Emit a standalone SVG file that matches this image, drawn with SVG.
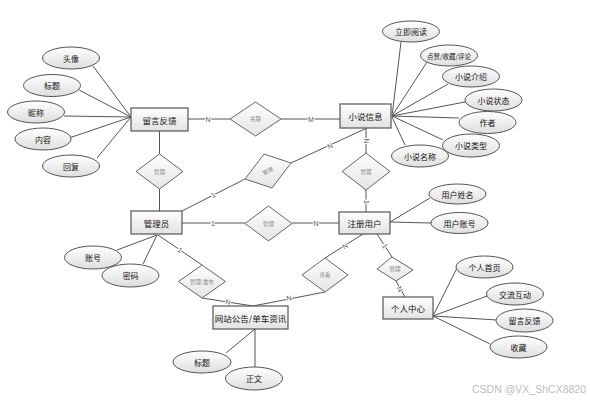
<svg xmlns="http://www.w3.org/2000/svg" width="590" height="400" viewBox="0 0 590 400">
<defs>
<linearGradient id="gE" x1="0" y1="0" x2="0" y2="1"><stop offset="0" stop-color="#ffffff"/><stop offset="1" stop-color="#dedede"/></linearGradient>
<linearGradient id="gR" x1="0" y1="0" x2="0" y2="1"><stop offset="0" stop-color="#ffffff"/><stop offset="1" stop-color="#e2e2e2"/></linearGradient>
<linearGradient id="gD" x1="0" y1="0" x2="0" y2="1"><stop offset="0" stop-color="#ffffff"/><stop offset="1" stop-color="#e4e4e4"/></linearGradient>
</defs>
<style>
text{font-family:"Noto Sans CJK SC","Liberation Sans",sans-serif;text-anchor:middle;dominant-baseline:central}
.ent rect{fill:url(#gR);stroke:#555;stroke-width:1.2}
.ent text{font-size:8.5px;fill:#111}
.att ellipse{fill:url(#gE);stroke:#555;stroke-width:1}
.att text{font-size:8px;fill:#111}
.rel polygon{fill:url(#gD);stroke:#666;stroke-width:1}
.rel text{font-size:5.5px;fill:#888}
#edges line{stroke:#555;stroke-width:1}
.lbl{font-family:"Liberation Sans",sans-serif;font-size:7px;fill:#555;paint-order:stroke;stroke:#fff;stroke-width:2px}
.wm{font-family:"Liberation Sans",sans-serif;font-size:10.5px;fill:#bdbdbd;text-anchor:end}
</style>
<g id="edges">
<line x1="93" y1="66" x2="131" y2="117"/>
<line x1="79" y1="90" x2="131" y2="117"/>
<line x1="64" y1="116" x2="131" y2="117"/>
<line x1="69" y1="138" x2="131" y2="117"/>
<line x1="97" y1="158" x2="131" y2="117"/>
<line x1="188" y1="119" x2="230" y2="119"/>
<line x1="281" y1="119" x2="340" y2="119"/>
<line x1="159.5" y1="131" x2="159.5" y2="154"/>
<line x1="159.5" y1="189" x2="159.5" y2="211"/>
<line x1="182" y1="211" x2="245" y2="179"/>
<line x1="291" y1="163" x2="367" y2="128"/>
<line x1="366" y1="128" x2="366" y2="153"/>
<line x1="366" y1="190" x2="366" y2="212"/>
<line x1="182" y1="223" x2="245" y2="223"/>
<line x1="292" y1="223" x2="339" y2="223"/>
<line x1="158" y1="235" x2="202" y2="265"/>
<line x1="202" y1="298" x2="253" y2="306"/>
<line x1="363" y1="234" x2="325" y2="258"/>
<line x1="325" y1="292" x2="253" y2="306"/>
<line x1="377" y1="234" x2="392" y2="257"/>
<line x1="396" y1="281" x2="405" y2="297"/>
<line x1="401" y1="42" x2="392" y2="116"/>
<line x1="427" y1="62" x2="392" y2="116"/>
<line x1="448" y1="84" x2="392" y2="116"/>
<line x1="465" y1="102" x2="392" y2="116"/>
<line x1="459" y1="118" x2="392" y2="116"/>
<line x1="443" y1="140" x2="392" y2="116"/>
<line x1="405" y1="145" x2="392" y2="117"/>
<line x1="430" y1="198" x2="390" y2="222"/>
<line x1="431" y1="223" x2="390" y2="222"/>
<line x1="457" y1="268" x2="433" y2="316"/>
<line x1="487" y1="296" x2="433" y2="316"/>
<line x1="497" y1="320" x2="433" y2="316"/>
<line x1="490" y1="344" x2="433" y2="316"/>
<line x1="117" y1="250" x2="157" y2="235"/>
<line x1="143" y1="264" x2="157" y2="235"/>
<line x1="226" y1="353" x2="255" y2="329"/>
<line x1="255" y1="329" x2="255" y2="367"/>
<text class="lbl" x="208" y="119">N</text>
<text class="lbl" x="311" y="119">M</text>
<text class="lbl" transform="translate(213,195) rotate(-27)">1</text>
<text class="lbl" transform="translate(330,146) rotate(-25)">N</text>
<text class="lbl" transform="translate(366,141) rotate(90)">N</text>
<text class="lbl" transform="translate(366,202) rotate(90)">1</text>
<text class="lbl" x="213" y="223">1</text>
<text class="lbl" x="316" y="223">N</text>
<text class="lbl" transform="translate(180,250) rotate(34)">1</text>
<text class="lbl" transform="translate(228,302) rotate(9)">N</text>
<text class="lbl" transform="translate(345,246) rotate(-32)">N</text>
<text class="lbl" transform="translate(289,298) rotate(-11)">N</text>
<text class="lbl" transform="translate(385,246) rotate(56)">1</text>
<text class="lbl" transform="translate(400,289) rotate(60)">N</text>
</g>
<g id="e-feedback" class="ent"><rect x="131" y="108" width="57" height="23"/><text x="159.5" y="119.5">留言反馈</text></g>
<g id="e-novel" class="ent"><rect x="340" y="104" width="51" height="24"/><text x="365.5" y="116">小说信息</text></g>
<g id="e-admin" class="ent"><rect x="131" y="211" width="51" height="23"/><text x="156.5" y="222.5">管理员</text></g>
<g id="e-user" class="ent"><rect x="339" y="212" width="51" height="22"/><text x="364.5" y="223">注册用户</text></g>
<g id="e-center" class="ent"><rect x="383" y="297" width="50" height="22"/><text x="408" y="308">个人中心</text></g>
<g id="e-notice" class="ent"><rect x="213" y="306" width="75" height="23"/><text x="250.5" y="317.5">网站公告/单车资讯</text></g>
<g id="r-link" class="rel"><polygon points="255.5,102 281,119 255.5,136 230,119"/><text x="255.5" y="119">关联</text></g>
<g id="r-fb-admin" class="rel"><polygon points="159.5,154 183,171.5 159.5,189 136,171.5"/><text x="159.5" y="171.5">管理</text></g>
<g id="r-admin-novel" class="rel"><polygon points="264,154 291,163 272,188 245,179"/><text transform="translate(268,171) rotate(-25)">管理</text></g>
<g id="r-novel-user" class="rel"><polygon points="366,153 390,171.5 366,190 342,171.5"/><text x="366" y="171.5">管理</text></g>
<g id="r-admin-user" class="rel"><polygon points="268.5,206 292,223.5 268.5,241 245,223.5"/><text x="268.5" y="223.5">管理</text></g>
<g id="r-admin-notice" class="rel"><polygon points="202,265 225.5,281.5 202,298 178.5,281.5"/><text x="202" y="281.5">管理/发布</text></g>
<g id="r-user-notice" class="rel"><polygon points="325,258 348,275 325,292 302,275"/><text x="325" y="275">查看</text></g>
<g id="r-user-center" class="rel"><polygon points="392,257 413,270 396,281 377,269"/><text x="395" y="269">管理</text></g>
<g id="a-avatar" class="att"><ellipse cx="71" cy="58" rx="28.5" ry="11"/><text x="71" y="58">头像</text></g>
<g id="a-title1" class="att"><ellipse cx="52" cy="85.5" rx="28.5" ry="11"/><text x="52" y="85.5">标题</text></g>
<g id="a-nick" class="att"><ellipse cx="36" cy="112" rx="28.5" ry="11"/><text x="36" y="112">昵称</text></g>
<g id="a-content" class="att"><ellipse cx="43" cy="139" rx="28" ry="11"/><text x="43" y="139">内容</text></g>
<g id="a-reply" class="att"><ellipse cx="71" cy="166" rx="28.5" ry="11"/><text x="71" y="166">回复</text></g>
<g id="a-read" class="att"><ellipse cx="411" cy="31.5" rx="28.5" ry="10.5"/><text x="411" y="31.5">立即阅读</text></g>
<g id="a-like" class="att"><ellipse cx="449" cy="55.5" rx="28.5" ry="10.5"/><text x="449" y="55.5" style="font-size:6.5px">点赞/收藏/评论</text></g>
<g id="a-intro" class="att"><ellipse cx="471" cy="76.5" rx="28.5" ry="10.5"/><text x="471" y="76.5">小说介绍</text></g>
<g id="a-state" class="att"><ellipse cx="493.5" cy="100" rx="28.5" ry="11"/><text x="493.5" y="100">小说状态</text></g>
<g id="a-author" class="att"><ellipse cx="487.5" cy="122.5" rx="28.5" ry="11"/><text x="487.5" y="122.5">作者</text></g>
<g id="a-type" class="att"><ellipse cx="471" cy="145.5" rx="28.5" ry="11.5"/><text x="471" y="145.5">小说类型</text></g>
<g id="a-name" class="att"><ellipse cx="420" cy="156" rx="28.5" ry="11"/><text x="420" y="156">小说名称</text></g>
<g id="a-uname" class="att"><ellipse cx="457.5" cy="194" rx="28.5" ry="10"/><text x="457.5" y="194">用户姓名</text></g>
<g id="a-uacc" class="att"><ellipse cx="459.5" cy="223" rx="28.5" ry="10.5"/><text x="459.5" y="223">用户账号</text></g>
<g id="a-home" class="att"><ellipse cx="484.5" cy="267" rx="28.5" ry="11"/><text x="484.5" y="267">个人首页</text></g>
<g id="a-talk" class="att"><ellipse cx="515" cy="294" rx="28.5" ry="11"/><text x="515" y="294">交流互动</text></g>
<g id="a-fb2" class="att"><ellipse cx="524.5" cy="320.5" rx="28.5" ry="11.5"/><text x="524.5" y="320.5">留言反馈</text></g>
<g id="a-fav" class="att"><ellipse cx="518.5" cy="347" rx="28.5" ry="11"/><text x="518.5" y="347">收藏</text></g>
<g id="a-acc" class="att"><ellipse cx="93" cy="257.5" rx="28.5" ry="11.5"/><text x="93" y="257.5">账号</text></g>
<g id="a-pwd" class="att"><ellipse cx="130.5" cy="275.5" rx="28.5" ry="11.5"/><text x="130.5" y="275.5">密码</text></g>
<g id="a-title2" class="att"><ellipse cx="202" cy="362" rx="29" ry="11"/><text x="202" y="362">标题</text></g>
<g id="a-body" class="att"><ellipse cx="254" cy="378.5" rx="28.5" ry="11.5"/><text x="254" y="378.5">正文</text></g>
<text class="wm" x="586" y="389">CSDN @VX_ShCX8820</text>
</svg>
